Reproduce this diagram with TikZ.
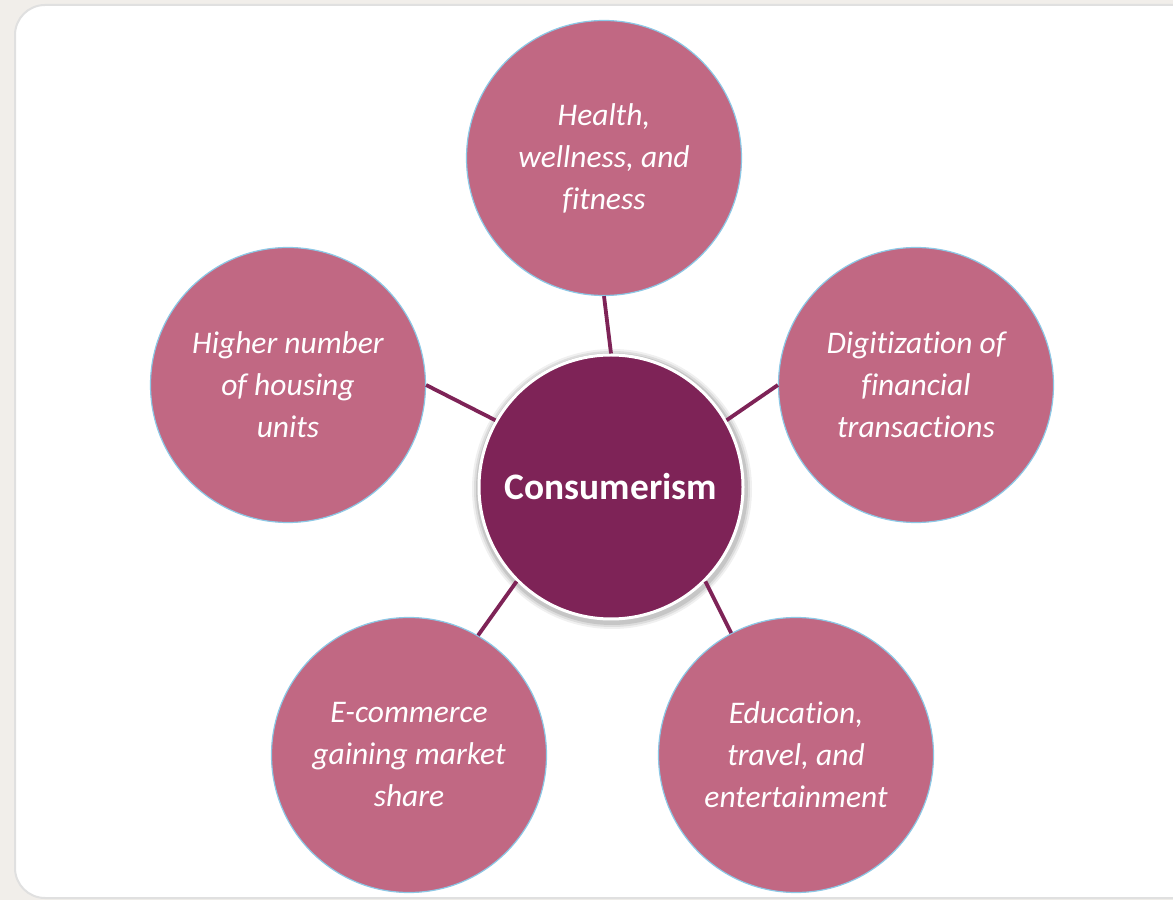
\documentclass[tikz,border=0pt]{standalone}
\usepackage{fontspec}
\setmainfont[Ligatures=NoCommon]{Carlito}
\definecolor{rose}{RGB}{193,104,131}
\definecolor{plum}{RGB}{126,35,87}
\definecolor{rim}{RGB}{140,200,230}
\definecolor{stone}{RGB}{241,238,234}
\tikzset{
  bubble/.style={circle,fill=rose,draw=rim,line width=0.6pt,minimum size=137.5pt,
    inner sep=0pt,text=white,align=center,font=\itshape\fontsize{15.75}{21}\selectfont},
  hub/.style={circle,fill=plum,draw=white,line width=1.5pt,minimum size=132pt,
    inner sep=0pt,text=white,font=\bfseries\fontsize{18.7}{22}\selectfont},
  spoke/.style={draw=plum,line width=1.9pt}
}
\begin{document}
\begin{tikzpicture}[x=0.5pt,y=0.5pt]
    \useasboundingbox (0,0) rectangle (1173,900);
    \clip (0,0) rectangle (1173,900);
    % backdrop and panel
    \fill[stone] (0,0) rectangle (1173,900);
    \filldraw[fill=white,draw=black!12,line width=1pt,rounded corners=15pt] (15,2) rectangle (1220,895);
    % soft shadow of the hub
    \foreach \r/\o in {140/0.06,138/0.08,136/0.1}
        \fill[black,opacity=\o] (612,411) circle (\r);
    \node[hub] (hub) at (611,413) {Consumerism};
    \node[bubble] (health) at (604,742) {Health,\\wellness, and\\fitness};
    \node[bubble] (housing) at (288,515) {Higher number\\of housing\\units};
    \node[bubble] (digital) at (916,515) {Digitization of\\financial\\transactions};
    \node[bubble] (ecom) at (409,145) {E-commerce\\gaining market\\share};
    \node[bubble] (travel) at (796,145) {Education,\\travel, and\\entertainment};
    % spokes
    \draw[spoke] (hub.90) -- (health.270);
    \draw[spoke] (hub.150) -- (housing.0);
    \draw[spoke] (hub.30) -- (digital.180);
    \draw[spoke] (hub.225) -- (ecom.60);
    \draw[spoke] (hub.315) -- (travel.118);
\end{tikzpicture}
\end{document}
